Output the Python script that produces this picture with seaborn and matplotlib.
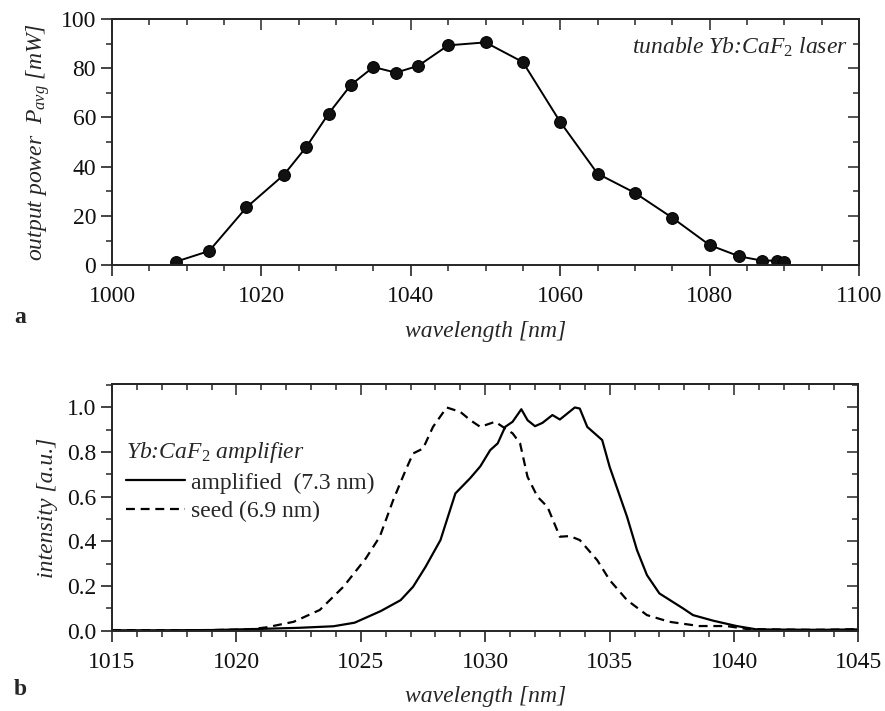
"""Yb:CaF2 tunable laser and amplifier spectra"""

import numpy as np
import pandas as pd
import matplotlib

matplotlib.use("Agg")
import matplotlib.pyplot as plt
from matplotlib.ticker import MultipleLocator
import seaborn as sns

# (a) tunable laser: output power vs wavelength
laser_wl = [1008.6, 1013.0, 1018.0, 1023.0, 1026.0, 1029.0, 1032.0, 1035.0, 1038.0,
            1041.0, 1045.0, 1050.0, 1055.0, 1060.0, 1065.0, 1070.0, 1075.0, 1080.0,
            1084.0, 1087.0, 1089.0, 1090.0]
laser_power = [1.5, 5.8, 23.5, 36.7, 48.0, 61.6, 73.3, 80.5, 78.2,
               81.0, 89.3, 90.5, 82.5, 58.2, 37.2, 29.4, 19.3, 8.2,
               3.6, 1.9, 1.9, 1.3]

# (b) amplifier spectra
amp_wl = [1015.0, 1017.0, 1019.0, 1020.9, 1022.5, 1023.9, 1024.75, 1025.8, 1026.6,
          1027.1, 1027.6, 1028.2, 1028.8, 1029.4, 1029.8, 1030.2, 1030.5, 1030.8,
          1031.1, 1031.45, 1031.7, 1032.0, 1032.3, 1032.7, 1033.0, 1033.6, 1033.8,
          1034.1, 1034.7, 1035.0, 1035.7, 1036.1, 1036.5, 1037.0, 1037.95, 1038.35,
          1039.16, 1040.1, 1040.9, 1042.0, 1043.5, 1045.0]
amp_int = [0.002, 0.002, 0.003, 0.008, 0.013, 0.02, 0.036, 0.088, 0.137,
           0.197, 0.286, 0.406, 0.615, 0.684, 0.736, 0.809, 0.839, 0.913,
           0.936, 0.992, 0.943, 0.916, 0.931, 0.966, 0.946, 1.0, 0.995,
           0.913, 0.854, 0.734, 0.51, 0.361, 0.249, 0.167, 0.1, 0.07,
           0.045, 0.021, 0.006, 0.005, 0.004, 0.006]

seed_wl = [1015.0, 1017.0, 1019.0, 1020.5, 1021.2, 1022.3, 1023.35, 1024.3, 1025.2,
           1025.76, 1026.3, 1026.8, 1027.1, 1027.5, 1027.9, 1028.45, 1029.0, 1029.4,
           1029.8, 1030.4, 1030.8, 1031.1, 1031.4, 1031.7, 1032.1, 1032.5, 1033.0,
           1033.4, 1033.8, 1034.5, 1035.0, 1035.7, 1036.5, 1037.4, 1038.6, 1039.7,
           1040.5, 1041.5, 1043.0, 1044.0, 1045.0]
seed_int = [0.003, 0.002, 0.003, 0.006, 0.015, 0.04, 0.093, 0.197, 0.324,
            0.421, 0.585, 0.719, 0.794, 0.816, 0.913, 1.0, 0.98, 0.943,
            0.913, 0.936, 0.906, 0.884, 0.839, 0.689, 0.6, 0.555, 0.421,
            0.424, 0.406, 0.316, 0.227, 0.137, 0.07, 0.04, 0.021, 0.021,
            0.008, 0.006, 0.004, 0.005, 0.007]

sns.set_style("ticks")
plt.rcParams["font.family"] = ["Liberation Serif", "DejaVu Serif"]
plt.rcParams["mathtext.fontset"] = "custom"
plt.rcParams["mathtext.it"] = "Liberation Serif:italic"
plt.rcParams["mathtext.rm"] = "Liberation Serif"
plt.rcParams["mathtext.default"] = "it"

FS = 17
LW_AX = 1.4


def style_axes(ax, xmaj, xmin, ymaj, ymin):
    ax.xaxis.set_major_locator(MultipleLocator(xmaj))
    ax.xaxis.set_minor_locator(MultipleLocator(xmin))
    ax.yaxis.set_major_locator(MultipleLocator(ymaj))
    ax.yaxis.set_minor_locator(MultipleLocator(ymin))
    ax.tick_params(which="major", direction="out", length=8, width=1.1,
                   labelsize=FS, colors="#111111")
    ax.tick_params(axis="x", which="major", pad=7)
    ax.tick_params(which="minor", direction="out", length=4.5, width=1.1)
    for s in ax.spines.values():
        s.set_linewidth(LW_AX)
        s.set_visible(True)
    # mirrored ticks pointing inwards on top and right
    top = ax.secondary_xaxis("top")
    top.xaxis.set_major_locator(MultipleLocator(xmaj))
    top.xaxis.set_minor_locator(MultipleLocator(xmin))
    top.tick_params(which="major", direction="in", length=8, width=1.1, labeltop=False)
    top.tick_params(which="minor", direction="in", length=4.5, width=1.1)
    top.spines["top"].set_linewidth(LW_AX)
    right = ax.secondary_yaxis("right")
    right.yaxis.set_major_locator(MultipleLocator(ymaj))
    right.yaxis.set_minor_locator(MultipleLocator(ymin))
    right.tick_params(which="major", direction="in", length=8, width=1.1, labelright=False)
    right.tick_params(which="minor", direction="in", length=4.5, width=1.1)
    right.spines["right"].set_linewidth(LW_AX)


fig = plt.figure(figsize=(8.85, 7.11), dpi=100)
ax1 = fig.add_axes([0.1266, 0.6269, 0.8440, 0.3464])
ax2 = fig.add_axes([0.1266, 0.1129, 0.8434, 0.3470])

# --- panel a ---
df_laser = pd.DataFrame({"wl": laser_wl, "p": laser_power})
sns.lineplot(data=df_laser, x="wl", y="p", ax=ax1, color="black", lw=1.4,
             marker="o", markersize=8.5, markeredgecolor="black", markerfacecolor="#111111")
ax1.set_xlim(1000, 1100)
ax1.set_ylim(0, 100)
style_axes(ax1, 20, 5, 20, 10)
ax1.set_xlabel("wavelength [nm]", fontsize=FS, style="italic", labelpad=10)
ax1.set_ylabel(r"output power  $P_{avg}$ [mW]", fontsize=FS, style="italic", labelpad=6)
ax1.text(0.985, 0.885, r"tunable Yb:CaF$_2$ laser", transform=ax1.transAxes,
         ha="right", va="center", fontsize=FS, style="italic")
fig.text(0.016, 0.553, "a", fontsize=FS, fontweight="bold", ha="left", va="center")

# --- panel b ---
df_amp = pd.DataFrame({"wl": amp_wl, "i": amp_int})
df_seed = pd.DataFrame({"wl": seed_wl, "i": seed_int})
sns.lineplot(data=df_amp, x="wl", y="i", ax=ax2, color="black", lw=1.6,
             label="amplified  (7.3 nm)")
sns.lineplot(data=df_seed, x="wl", y="i", ax=ax2, color="black", lw=1.6,
             linestyle=(0, (4, 2.6)), label="seed (6.9 nm)")
ax2.set_xlim(1015, 1045)
ax2.set_ylim(0, 1.105)
style_axes(ax2, 5, 1, 0.2, 0.1)
ax2.yaxis.set_major_formatter(matplotlib.ticker.FormatStrFormatter("%.1f"))
ax2.set_xlabel("wavelength [nm]", fontsize=FS, style="italic", labelpad=10)
ax2.set_ylabel("intensity [a.u.]", fontsize=FS, style="italic", labelpad=6)
leg = ax2.legend(loc="upper left", bbox_to_anchor=(0.0, 0.83), frameon=False,
                 fontsize=FS, handlelength=2.5, handletextpad=0.25, labelspacing=0.3,
                 title=r"Yb:CaF$_2$ amplifier", alignment="left", borderaxespad=0.2)
leg.get_title().set_fontsize(FS)
leg.get_title().set_fontstyle("italic")
fig.text(0.016, 0.030, "b", fontsize=FS, fontweight="bold", ha="left", va="center")

plt.savefig("out.png", dpi=100)
plt.close()
